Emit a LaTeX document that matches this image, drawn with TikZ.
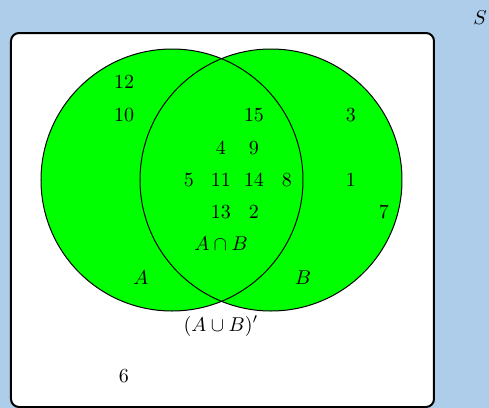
\documentclass[tikz,border=0pt]{standalone}
\definecolor{bgblue}{RGB}{173,205,235}
\definecolor{vgreen}{RGB}{0,255,0}
\tikzset{
  lbl/.style={inner sep=0pt, anchor=center},
  setcirc/.style={fill=vgreen, draw=black, line width=0.5pt},
}
\begin{document}
\begin{tikzpicture}[x=0.5pt,y=-0.5pt]
\fill[bgblue] (0,0) rectangle (489,408);
\useasboundingbox (0,0) rectangle (489,408);
\draw[fill=white, line width=1pt, rounded corners=4pt] (11,33) rectangle (434,407);
\fill[vgreen] (172,180) circle[radius=131];
\fill[vgreen] (271,180) circle[radius=131];
\draw[line width=0.5pt] (172,180) circle[radius=131];
\draw[line width=0.5pt] (271,180) circle[radius=131];
\node[lbl] (S) at (480,18) {$S$};
\node[lbl] (n12) at (124,82) {12};
\node[lbl] (n10) at (124,115) {10};
\node[lbl] (n15) at (254,115) {15};
\node[lbl] (n3) at (351,115) {3};
\node[lbl] (n4) at (221,148) {4};
\node[lbl] (n9) at (254,148) {9};
\node[lbl] (n5) at (189,180) {5};
\node[lbl] (n11) at (221,180) {11};
\node[lbl] (n14) at (254,180) {14};
\node[lbl] (n8) at (287,180) {8};
\node[lbl] (n1) at (351,180) {1};
\node[lbl] (n7) at (384,212) {7};
\node[lbl] (n13) at (221,212) {13};
\node[lbl] (n2) at (254,212) {2};
\node[lbl] (AB) at (221,244) {$A\cap B$};
\node[lbl] (A) at (141,278) {$A$};
\node[lbl] (B) at (303,278) {$B$};
\node[lbl] (U) at (221,326) {$(A\cup B)'$};
\node[lbl] (n6) at (124,376) {6};
\end{tikzpicture}
\end{document}
